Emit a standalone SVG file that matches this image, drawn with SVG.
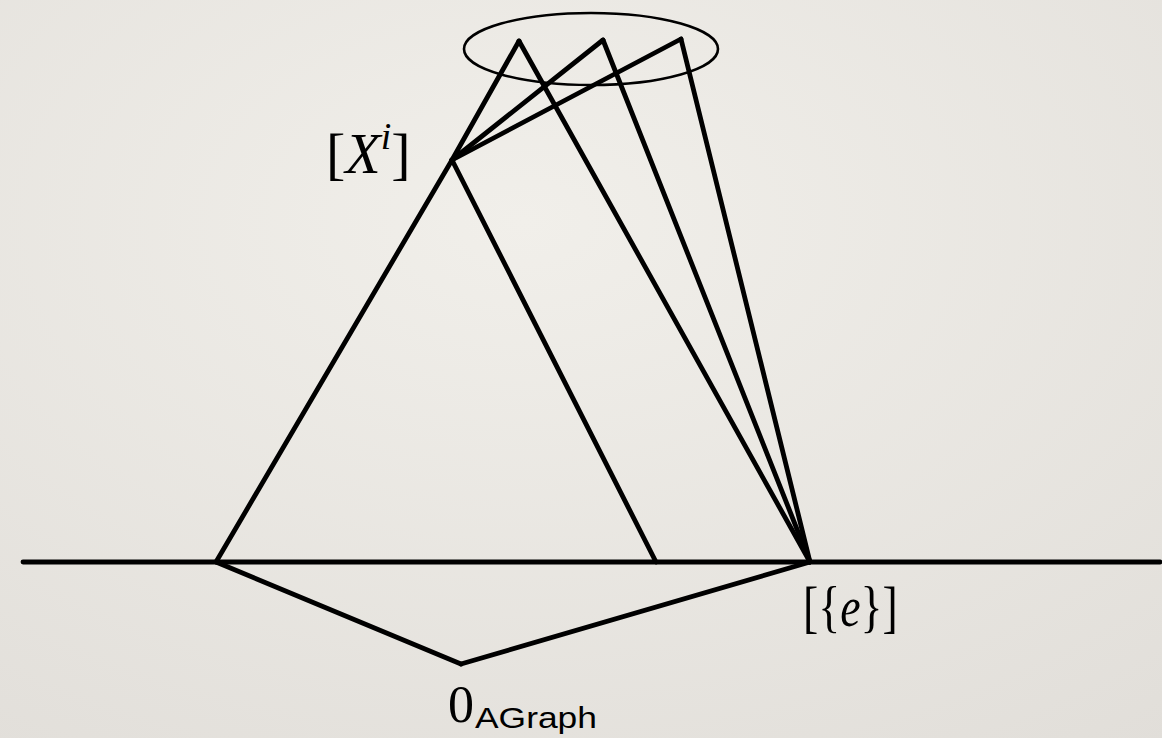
<svg xmlns="http://www.w3.org/2000/svg" width="1162" height="738" viewBox="0 0 1162 738">
<style>
.ln{stroke:#000;stroke-width:4.8;stroke-linecap:round;stroke-linejoin:round;fill:none}
.ell{stroke:#000;stroke-width:2.6;fill:none}
.m{font-family:"Liberation Serif",serif;fill:#000}
.s{font-family:"Liberation Sans",sans-serif;fill:#000}
</style>
<defs>
<radialGradient id="bg" cx="0.45" cy="0.3" r="0.9">
<stop offset="0" stop-color="#f1efea"/>
<stop offset="1" stop-color="#e1ded9"/>
</radialGradient>
</defs>
<rect width="1162" height="738" fill="url(#bg)"/>
<g id="connectors">
<line class="ln" x1="23" y1="562" x2="1160" y2="562"/>
<line class="ln" x1="216" y1="562" x2="452" y2="160"/>
<line class="ln" x1="452" y1="160" x2="519" y2="41"/>
<line class="ln" x1="452" y1="160" x2="603" y2="40"/>
<line class="ln" x1="452" y1="160" x2="681" y2="39"/>
<line class="ln" x1="452" y1="160" x2="656" y2="562"/>
<line class="ln" x1="519" y1="41" x2="810" y2="562"/>
<line class="ln" x1="603" y1="40" x2="810" y2="562"/>
<line class="ln" x1="681" y1="39" x2="810" y2="562"/>
<line class="ln" x1="216" y1="562" x2="461" y2="664"/>
<line class="ln" x1="461" y1="664" x2="810" y2="562"/>
</g>
<g id="ellipse">
<ellipse class="ell" cx="591" cy="49" rx="127" ry="36"/>
</g>
<g id="node-Xi">
<text class="m" x="326" y="173" font-size="58">[<tspan font-style="italic">X</tspan><tspan font-style="italic" font-size="38" dy="-24">i</tspan><tspan dy="24">]</tspan></text>
</g>
<g id="node-e">
<text class="m" transform="translate(803,626) scale(0.88,1.1)" x="0" y="0" font-size="52">[{<tspan font-style="italic">e</tspan>}]</text>
</g>
<g id="node-0">
<text class="m" x="448" y="722" font-size="52">0</text>
<text class="s" x="475" y="728" font-size="29" textLength="122" lengthAdjust="spacingAndGlyphs">AGraph</text>
</g>
</svg>
